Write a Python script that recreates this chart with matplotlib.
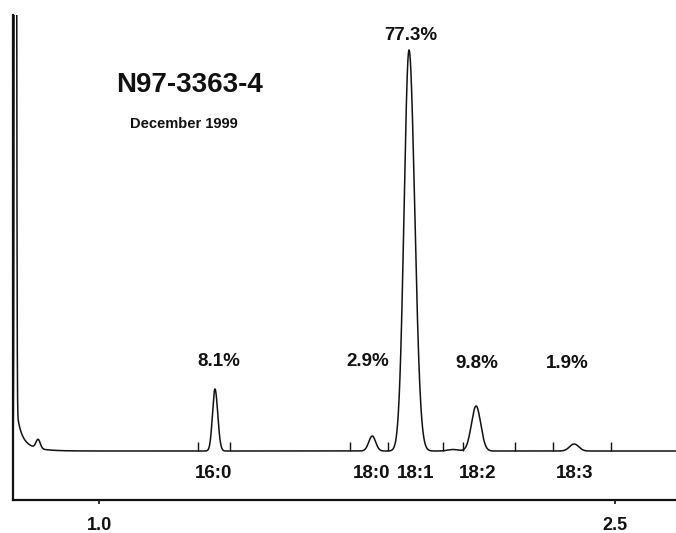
"""
Cromatograma N97-3363-4
=======================

Recrea el cromatograma de ácidos grasos (diciembre 1999).
"""

import numpy as np
import matplotlib
matplotlib.use("Agg")
import matplotlib.pyplot as plt


# Picos con nombre: tiempo de retención, altura y anchos (izquierdo / derecho)
peak_names = ["16:0", "18:0", "18:1", "18:2", "18:3"]
peak_percent = ["8.1%", "2.9%", "77.3%", "9.8%", "1.9%"]
peak_times = [1.337, 1.794, 1.901, 2.096, 2.381]
peak_heights = [62, 15, 401, 45, 7]
peak_sigma_left = [0.0072, 0.0100, 0.0143, 0.0136, 0.0133]
peak_sigma_right = [0.0080, 0.0100, 0.0165, 0.0134, 0.0133]

# Picos menores sin nombre
minor_times = [0.823, 2.029]
minor_heights = [9, 1.5]
minor_sigmas = [0.0062, 0.015]

# Pico del disolvente y su cola
solvent_time = 0.757
solvent_height = 3000
solvent_sigma = 0.002
tail_start = 0.7616
tail_amps = [23, 15]
tail_taus = [0.0116, 0.035]

# Marcas de integración sobre la línea base
marker_times = [1.288, 1.381, 1.730, 1.840, 2.000, 2.058, 2.209, 2.320, 2.488]
marker_height = 9

tick_values = [1.0, 2.5]
tick_labels = ["1.0", "2.5"]

title_text = "N97-3363-4"
date_text = "December 1999"

# Posiciones de las etiquetas (unidades de los ejes)
percent_x = [1.349, 1.782, 1.907, 2.099, 2.360]
percent_y = [90, 90, 416, 88, 87]
name_x = [1.334, 1.791, 1.919, 2.099, 2.381]
name_y = -23


def asym_gauss(t, mu, h, sl, sr):
    """
    Pico gaussiano asimétrico.

    Args:
        t: Tiempos
        mu: Centro del pico
        h: Altura
        sl, sr: Anchos a la izquierda y a la derecha

    Returns:
        Señal del pico
    """
    s = np.where(t < mu, sl, sr)
    return h * np.exp(-0.5 * ((t - mu) / s) ** 2)


def solvent_signal(t):
    """
    Pico del disolvente con cola exponencial.
    """
    y = solvent_height * np.exp(-0.5 * ((t - solvent_time) / solvent_sigma) ** 2)
    dt = np.clip(t - tail_start, 0, None)
    tail = sum(a * np.exp(-dt / tau) for a, tau in zip(tail_amps, tail_taus))
    return y + np.where(t >= tail_start, tail, 0.0)


def chromatogram(t):
    """
    Suma de todos los picos.
    """
    y = solvent_signal(t)
    for mu, h, sl, sr in zip(peak_times, peak_heights,
                             peak_sigma_left, peak_sigma_right):
        y = y + asym_gauss(t, mu, h, sl, sr)
    for mu, h, s in zip(minor_times, minor_heights, minor_sigmas):
        y = y + asym_gauss(t, mu, h, s, s)
    return y


plt.rcParams['font.family'] = ['Liberation Sans', 'DejaVu Sans']
ink = '#111111'

fig = plt.figure(figsize=(6.76, 5.33), dpi=100)
ax = fig.add_axes([13 / 676, 33 / 533, 663 / 676, 485 / 533])

t = np.linspace(0.745, 2.68, 12000)
ax.plot(t, chromatogram(t), color=ink, linewidth=1.1)

# Marcas de integración
ax.vlines(marker_times, 0, marker_height, color=ink, linewidth=1.0)

# Porcentajes y nombres de los picos
for txt, x, y in zip(peak_percent, percent_x, percent_y):
    ax.text(x, y, txt, ha='center', va='center', fontsize=13.5,
            fontweight='bold', color=ink)
for txt, x in zip(peak_names, name_x):
    ax.text(x, name_y, txt, ha='center', va='center', fontsize=13.5,
            fontweight='bold', color=ink)

ax.text(1.262, 366, title_text, ha='center', va='center', fontsize=20,
        fontweight='bold', color=ink)
ax.text(1.247, 327, date_text, ha='center', va='center', fontsize=10.5,
        fontweight='bold', color=ink)

ax.set_xlim(0.750, 2.677)
ax.set_ylim(-49, 436)
ax.set_yticks([])
ax.set_xticks(tick_values)
ax.set_xticklabels(tick_labels, fontsize=13, fontweight='bold', color=ink)
ax.tick_params(axis='x', direction='out', length=3, width=1.2, pad=9,
               color=ink)

for side in ['top', 'right']:
    ax.spines[side].set_visible(False)
for side in ['left', 'bottom']:
    ax.spines[side].set_linewidth(1.6)
    ax.spines[side].set_color(ink)

fig.savefig('out.png', dpi=100)
